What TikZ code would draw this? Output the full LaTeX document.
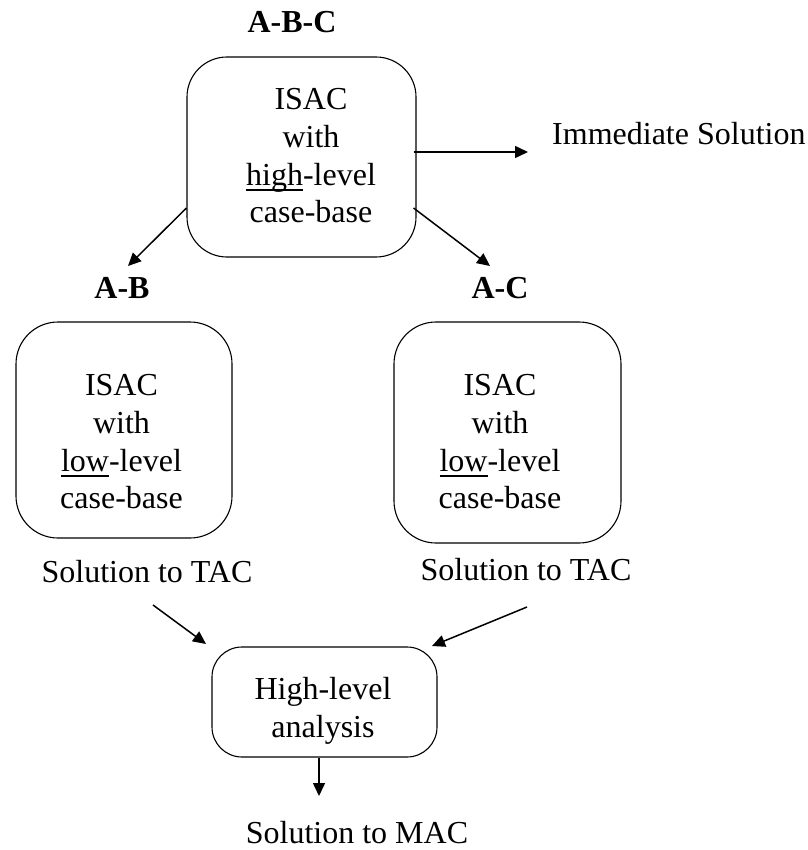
\documentclass[tikz,border=0pt]{standalone}
\usepackage{fontspec}
\setmainfont{Liberation Serif}
\usetikzlibrary{arrows.meta}
% underline set at a fixed depth, so that it does not change the line spacing
\newcommand\lowline[1]{\setbox0\hbox{#1}\rlap{\vrule width\wd0 height -3.8pt depth 5.4pt}\box0}
\begin{document}
\begin{tikzpicture}[x=1pt,y=-1pt,
  box/.style={draw, line width=1.1pt, rounded corners=#1, inner sep=0pt},
  txt/.style={font=\fontsize{32}{37.7}\selectfont, align=center, inner sep=0pt},
  tag/.style={font=\fontsize{32}{37.7}\selectfont\bfseries, inner sep=0pt, anchor=base},
  plain/.style={font=\fontsize{32}{37.7}\selectfont, inner sep=0pt},
  arr/.style={line width=1.5pt, -{Triangle[length=13pt,width=12pt]}}]
\useasboundingbox (0,0) rectangle (807,850);

% top level: ISAC on the high-level case-base
\node[tag] (abc) at (292,33) {A-B-C};
\node[box=40pt, minimum width=229pt, minimum height=200pt] (top) at (301.5,157) {};
\node[txt] (toptxt) at (311,156) {ISAC\\with\\\lowline{high}-level\\case-base};
\node[plain, anchor=base west] (imm) at (552,145) {Immediate Solution};

% second level: two ISACs on low-level case-bases
\node[tag] (ab) at (122,298) {A-B};
\node[tag] (ac) at (500,298) {A-C};
\node[box=42pt, minimum width=216pt, minimum height=216pt] (left) at (124,430) {};
\node[txt] (lefttxt) at (121.5,442) {ISAC\\with\\\lowline{low}-level\\case-base};
\node[box=42pt, minimum width=227pt, minimum height=221pt] (right) at (507.5,432.5) {};
\node[txt] (righttxt) at (500,442) {ISAC\\with\\\lowline{low}-level\\case-base};
\node[plain, anchor=base] (soll) at (147,582) {Solution to TAC};
\node[plain, anchor=base] (solr) at (526,580) {Solution to TAC};

% combination step
\node[box=30pt, minimum width=225pt, minimum height=110pt] (hla) at (324.5,702) {};
\node[txt] (hlatxt) at (323,711) {High-level\\analysis};
\node[plain, anchor=base] (mac) at (357,843) {Solution to MAC};

% arrow end points
\coordinate (imm-in) at (528,152);
\coordinate (ab-in) at (128,266);
\coordinate (ac-in) at (490,266);
\coordinate (soll-out) at (153,605);
\coordinate (solr-out) at (527,607);
\coordinate (hla-inl) at (206,644);
\coordinate (hla-inr) at (432,646);
\coordinate (mac-in) at (319,796);

\draw[arr] ([shift={(-3,-5)}]top.east) -- (imm-in);
\draw[arr] ([shift={(0,51)}]top.west) -- (ab-in);
\draw[arr] ([shift={(-3,51)}]top.east) -- (ac-in);
\draw[arr] (soll-out) -- (hla-inl);
\draw[arr] (solr-out) -- (hla-inr);
\draw[arr] (hla.south -| mac-in) -- (mac-in);
\end{tikzpicture}
\end{document}
